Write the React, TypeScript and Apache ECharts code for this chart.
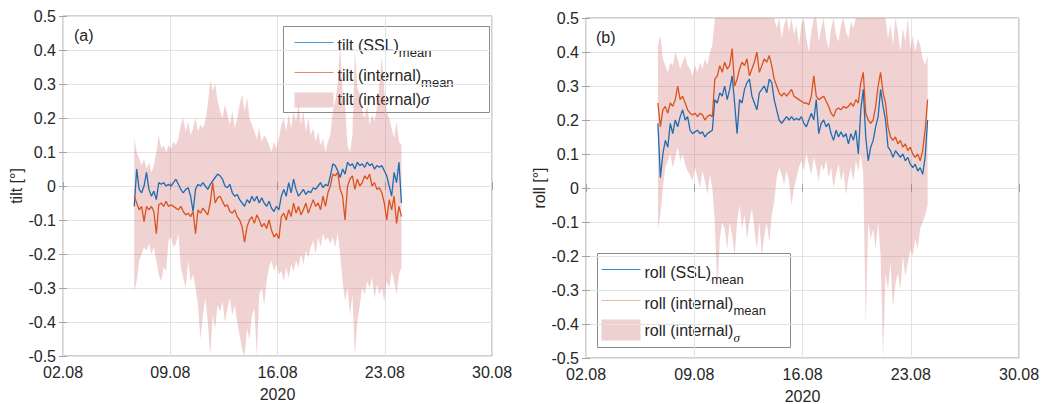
import React, { useEffect, useRef } from "react";
import * as echarts from "echarts";

// ---------- data ----------
// sampling: days after 02.08.2020 00:00
const T_START = 4.65;
const T_STEP = 0.16;
const X_TICKS = ["02.08", "09.08", "16.08", "23.08", "30.08"];
const X_YEAR = "2020";

const tiltSSL = [
  -0.06, 0.05, -0.01, -0.02, 0.0, 0.04, -0.01, -0.03, -0.015, -0.04,
  0.01, 0.005, 0.01, 0.0, 0.005, 0.0, 0.01, 0.02, 0.005, -0.01,
  -0.02, -0.01, -0.005, -0.03, -0.075, -0.01, 0.005, 0.0, 0.01, 0.0,
  -0.01, 0.005, 0.015, 0.025, 0.035, 0.03, 0.02, 0.0, -0.005, 0.005,
  -0.02, -0.03, -0.025, -0.04, -0.05, -0.06, -0.04, -0.05, -0.03, -0.045,
  -0.03, -0.05, -0.035, -0.05, -0.06, -0.045, -0.065, -0.075, -0.06, -0.07,
  -0.03, -0.01, -0.03, 0.01, -0.02, 0.02, -0.01, -0.03, -0.02, -0.01,
  -0.025, -0.015, -0.02, -0.005, -0.01, 0.0, 0.01, -0.005, 0.005, 0.0,
  0.03, 0.065, 0.06, 0.045, 0.025, 0.05, 0.035, 0.07, 0.06, 0.065,
  0.05, 0.07, 0.06, 0.065, 0.055, 0.07, 0.06, 0.065, 0.05, 0.06,
  0.055, 0.06, 0.045, 0.03, 0.0, -0.03, 0.04, 0.01, 0.07, -0.05,
];

const tiltInternal = [
  -0.03, -0.05, -0.07, -0.06, -0.105, -0.06, -0.07, -0.06, -0.075, -0.14,
  -0.055, -0.05, -0.06, -0.045, -0.06, -0.055, -0.06, -0.065, -0.07, -0.06,
  -0.075, -0.085, -0.08, -0.09, -0.075, -0.14, -0.07, -0.08, -0.065, -0.075,
  -0.085, -0.05, 0.01, -0.05, -0.035, -0.03, -0.045, -0.06, -0.055, -0.075,
  -0.08, -0.07, -0.09, -0.1, -0.12, -0.165, -0.12, -0.1, -0.09, -0.11,
  -0.085, -0.1, -0.12, -0.11, -0.125, -0.1, -0.13, -0.15, -0.14, -0.155,
  -0.09, -0.08, -0.1, -0.07, -0.09, -0.05, -0.08, -0.06, -0.085, -0.07,
  -0.05, -0.08, -0.06, -0.04, -0.06, -0.05, -0.07, -0.03, -0.06, -0.02,
  0.0, 0.035, 0.03, 0.04, -0.01, -0.03, -0.1, 0.0, 0.02, 0.03,
  -0.01, 0.02, 0.0, 0.01, 0.03, 0.02, 0.035, 0.0, 0.01, -0.01,
  -0.005, -0.02, -0.05, -0.1, -0.04, -0.07, -0.03, -0.11, -0.06, -0.09,
];

const tiltSigmaHigh = [
  0.14, 0.1, 0.08, 0.06, 0.08, 0.05, 0.07, 0.04, 0.06, 0.1,
  0.15, 0.11, 0.12, 0.1, 0.12, 0.11, 0.13, 0.12, 0.14, 0.18,
  0.2, 0.16, 0.19, 0.15, 0.17, 0.2, 0.16, 0.18, 0.17, 0.19,
  0.24, 0.31, 0.28, 0.3, 0.25, 0.22, 0.2, 0.24, 0.21, 0.18,
  0.22, 0.17, 0.2, 0.24, 0.27, 0.22, 0.26, 0.2, 0.18, 0.16,
  0.14, 0.17, 0.13, 0.15, 0.14, 0.12, 0.1, 0.13, 0.11, 0.14,
  0.18, 0.2, 0.16, 0.21, 0.17, 0.22, 0.19, 0.24, 0.18, 0.22,
  0.16, 0.2, 0.15, 0.17, 0.13, 0.16, 0.12, 0.14, 0.1, 0.13,
  0.15, 0.22, 0.25, 0.3, 0.42, 0.27, 0.24, 0.12, 0.1, 0.15,
  0.4, 0.29, 0.27, 0.22, 0.2, 0.24, 0.18, 0.21, 0.19, 0.23,
  0.3, 0.38, 0.28, 0.22, 0.2, 0.17, 0.14, 0.19, 0.13, 0.12,
];

const tiltSigmaLow = [
  -0.31, -0.28, -0.22, -0.2, -0.18, -0.19, -0.17, -0.2, -0.18, -0.22,
  -0.26, -0.28, -0.24, -0.25, -0.16, -0.15, -0.18, -0.17, -0.14, -0.24,
  -0.27, -0.3, -0.22, -0.28, -0.26, -0.3, -0.35, -0.45, -0.38, -0.33,
  -0.4, -0.5, -0.38, -0.42, -0.35, -0.37, -0.34, -0.4, -0.36, -0.33,
  -0.38, -0.35, -0.4, -0.44, -0.48, -0.5, -0.42, -0.45, -0.38, -0.36,
  -0.5, -0.32, -0.3, -0.35, -0.28, -0.24, -0.22, -0.25, -0.23, -0.26,
  -0.25, -0.28, -0.24, -0.27, -0.23, -0.25, -0.22, -0.24, -0.2, -0.23,
  -0.19, -0.21, -0.18, -0.16, -0.2, -0.15, -0.18, -0.14, -0.16, -0.15,
  -0.17, -0.15, -0.18, -0.14, -0.2, -0.28, -0.34, -0.3, -0.38, -0.32,
  -0.5, -0.4, -0.35, -0.3, -0.32, -0.28, -0.3, -0.27, -0.33, -0.29,
  -0.32, -0.3, -0.34, -0.28, -0.3, -0.25, -0.28, -0.32, -0.26, -0.24,
];

const rollSSL = [
  0.19, 0.03, 0.1, 0.14, 0.12, 0.19, 0.16, 0.2, 0.18, 0.21,
  0.23, 0.2, 0.21, 0.17, 0.16, 0.165, 0.17, 0.16, 0.165, 0.15,
  0.16, 0.165, 0.17, 0.26, 0.25, 0.28, 0.27, 0.3, 0.26, 0.29,
  0.33, 0.25, 0.16, 0.26, 0.25, 0.29, 0.31, 0.32, 0.27, 0.25,
  0.23, 0.28, 0.29, 0.3, 0.28, 0.32, 0.31, 0.26, 0.23, 0.2,
  0.19, 0.2, 0.21, 0.2, 0.21, 0.2, 0.205, 0.2, 0.21, 0.19,
  0.18, 0.2, 0.22, 0.2, 0.26, 0.16, 0.19, 0.2, 0.18, 0.19,
  0.16, 0.14, 0.17, 0.15, 0.165, 0.15, 0.16, 0.13, 0.16, 0.14,
  0.17, 0.1, 0.23, 0.29, 0.15, 0.08, 0.12, 0.14, 0.18, 0.21,
  0.29, 0.24, 0.2, 0.12, 0.11, 0.09, 0.11, 0.1, 0.09, 0.1,
  0.08, 0.09, 0.07, 0.06, 0.07, 0.05, 0.06, 0.04, 0.09, 0.2,
];

const rollInternal = [
  0.25, 0.18, 0.23, 0.24, 0.22, 0.25, 0.24, 0.26, 0.3, 0.26,
  0.27, 0.25, 0.23, 0.22, 0.215, 0.22, 0.21, 0.22, 0.215, 0.2,
  0.21, 0.215, 0.21, 0.32, 0.33, 0.36, 0.34, 0.37, 0.35, 0.36,
  0.41, 0.3, 0.32, 0.35, 0.37, 0.36, 0.38, 0.33, 0.35, 0.37,
  0.4, 0.34, 0.36, 0.38, 0.37, 0.39, 0.36, 0.32, 0.3, 0.28,
  0.27, 0.28, 0.27, 0.28, 0.29, 0.27, 0.265, 0.26, 0.255, 0.25,
  0.25, 0.245, 0.27, 0.33, 0.27, 0.26, 0.265, 0.27, 0.255, 0.24,
  0.22, 0.21, 0.23, 0.235, 0.23, 0.24, 0.235, 0.24, 0.25, 0.24,
  0.26, 0.25, 0.31, 0.34, 0.22, 0.2, 0.19, 0.2, 0.24, 0.3,
  0.34, 0.28, 0.25, 0.18, 0.15, 0.14, 0.15, 0.13, 0.14, 0.12,
  0.13, 0.11, 0.12, 0.1, 0.09, 0.1, 0.08, 0.11, 0.17, 0.26,
];

const rollSigmaHigh = [
  0.42, 0.45, 0.38, 0.36, 0.34, 0.37, 0.36, 0.4, 0.38, 0.35,
  0.37, 0.39, 0.36, 0.35, 0.33, 0.36, 0.34, 0.37, 0.35, 0.38,
  0.36, 0.4, 0.42, 0.5, 0.5, 0.5, 0.5, 0.5, 0.5, 0.5,
  0.5, 0.5, 0.5, 0.5, 0.5, 0.5, 0.5, 0.5, 0.5, 0.5,
  0.5, 0.5, 0.5, 0.5, 0.5, 0.5, 0.5, 0.5, 0.47, 0.5,
  0.44, 0.48, 0.5, 0.46, 0.5, 0.45, 0.48, 0.42, 0.48, 0.5,
  0.44, 0.4, 0.46, 0.5, 0.5, 0.43, 0.47, 0.5, 0.44, 0.41,
  0.47, 0.5, 0.45, 0.43, 0.48, 0.5, 0.46, 0.44, 0.49, 0.47,
  0.5, 0.5, 0.5, 0.5, 0.5, 0.5, 0.5, 0.5, 0.5, 0.5,
  0.5, 0.5, 0.5, 0.44, 0.48, 0.42, 0.5, 0.46, 0.4, 0.47,
  0.43, 0.5, 0.41, 0.45, 0.4, 0.44, 0.42, 0.38, 0.36, 0.39,
];

const rollSigmaLow = [
  -0.12, -0.08, 0.0, 0.06, 0.08, 0.1, 0.06, 0.09, 0.12, 0.08,
  0.1, 0.07, 0.05, 0.04, 0.02, 0.06, 0.03, 0.0, 0.05, 0.02,
  -0.02, 0.04, 0.0, -0.1, -0.3, -0.15, -0.1, -0.12, -0.18, -0.1,
  -0.14, -0.2, -0.1, -0.05, -0.12, -0.08, -0.15, -0.1, -0.06, -0.12,
  -0.18, -0.1, -0.2, -0.14, -0.1, -0.16, -0.08, -0.04, 0.03, 0.06,
  0.04, 0.01, 0.05, 0.02, -0.05, 0.0, 0.03, 0.06, 0.08, 0.05,
  0.1, 0.07, 0.04, 0.09, 0.06, 0.02, 0.07, 0.05, 0.08, 0.03,
  0.06, 0.0, 0.04, 0.07, 0.02, 0.05, -0.02, 0.03, 0.06, 0.02,
  0.08, 0.05, 0.1, 0.04, -0.4, -0.1, -0.15, -0.12, -0.18, -0.1,
  -0.2, -0.5, -0.25, -0.3, -0.22, -0.35, -0.28, -0.25, -0.3, -0.2,
  -0.26, -0.22, -0.18, -0.2, -0.15, -0.18, -0.12, -0.1, -0.08, -0.05,
];

const times = tiltSSL.map((_, k) => +(T_START + T_STEP * k).toFixed(3));

// ---------- styles ----------
const FONT = "'Liberation Sans', Arial, Helvetica, sans-serif";
const SERIF = "'Liberation Serif', 'DejaVu Serif', serif";
const TEXT = "#262626";
const AXIS = "#a3a3a3";
const GRID = "#e3e3e3";
const BLUE = "#1f6cb0";
const ORANGE = "#d9531e";
const BAND = "rgba(204, 92, 92, 0.28)";
const BAND_SWATCH = "#eed0d0";

function fmtY(v: number) {
  const r = Math.round(v * 10);
  return r === 0 ? "0" : (r / 10).toFixed(1);
}

function bottomX(gridIndex: number) {
  return {
    type: "value",
    gridIndex,
    min: 0,
    max: 28,
    interval: 7,
    axisLine: { show: false },
    axisTick: { show: true, inside: true, length: 4, lineStyle: { color: AXIS } },
    axisLabel: {
      margin: 8,
      fontSize: 16,
      fontFamily: FONT,
      color: TEXT,
      formatter: (v: number) => X_TICKS[Math.round(v / 7)] ?? "",
    },
    splitLine: { show: true, lineStyle: { color: GRID, width: 1 } },
    name: X_YEAR,
    nameLocation: "middle",
    nameGap: 30,
    nameTextStyle: { fontSize: 16, fontFamily: FONT, color: TEXT },
  };
}

function topX(gridIndex: number) {
  return {
    type: "value",
    gridIndex,
    position: "top",
    min: 0,
    max: 28,
    interval: 7,
    axisLine: { show: false },
    axisTick: { show: true, inside: true, length: 4, lineStyle: { color: AXIS } },
    axisLabel: { show: false },
    splitLine: { show: false },
  };
}

function leftY(gridIndex: number, name: string) {
  return {
    type: "value",
    gridIndex,
    min: -0.5,
    max: 0.5,
    interval: 0.1,
    axisLine: { show: false },
    axisTick: { show: true, inside: true, length: 4, lineStyle: { color: AXIS } },
    axisLabel: { margin: 7, fontSize: 16, fontFamily: FONT, color: TEXT, formatter: fmtY },
    splitLine: { show: true, lineStyle: { color: GRID, width: 1 } },
    name,
    nameLocation: "middle",
    nameGap: 36,
    nameTextStyle: { fontSize: 16, fontFamily: FONT, color: TEXT },
  };
}

function rightY(gridIndex: number) {
  return {
    type: "value",
    gridIndex,
    position: "right",
    min: -0.5,
    max: 0.5,
    interval: 0.1,
    axisLine: { show: false },
    axisTick: { show: true, inside: true, length: 4, lineStyle: { color: AXIS } },
    axisLabel: { show: false },
    splitLine: { show: false },
  };
}

function bandSeries(axisIndex: number, lo: number[], hi: number[], name: string) {
  return {
    type: "custom",
    name,
    xAxisIndex: axisIndex,
    yAxisIndex: axisIndex,
    silent: true,
    z: 1,
    data: times.map((t, k) => [t, lo[k], hi[k]]),
    encode: { x: 0, y: [1, 2] },
    renderItem: (params: any, api: any) => {
      if (params.dataIndex !== 0) return null;
      const pts: number[][] = [];
      for (let k = 0; k < times.length; k++) pts.push(api.coord([times[k], hi[k]]));
      for (let k = times.length - 1; k >= 0; k--) pts.push(api.coord([times[k], lo[k]]));
      return { type: "polygon", shape: { points: pts }, style: { fill: BAND, stroke: null } };
    },
  };
}

function lineSeries(axisIndex: number, values: number[], color: string, name: string) {
  return {
    type: "line",
    name,
    xAxisIndex: axisIndex,
    yAxisIndex: axisIndex,
    data: times.map((t, k) => [t, values[k]]),
    showSymbol: false,
    symbol: "none",
    z: 3,
    lineStyle: { width: 1.3, color },
    itemStyle: { color },
  };
}

const RICH = {
  m: { fontSize: 16, fontFamily: FONT, fill: TEXT, color: TEXT },
  s: { fontSize: 13, fontFamily: FONT, fill: TEXT, color: TEXT, padding: [13, 0, 0, 0] },
  g: { fontSize: 17, fontFamily: SERIF, fontStyle: "italic", fill: TEXT, color: TEXT },
  sg: { fontSize: 13, fontFamily: SERIF, fontStyle: "italic", fill: TEXT, color: TEXT, padding: [14, 0, 0, 0] },
};

function legendGroup(
  x: number,
  y: number,
  w: number,
  h: number,
  lineX1: number,
  lineX2: number,
  textX: number,
  rows: number[],
  swatch: number[],
  labels: string[],
  lineColors: string[]
) {
  return {
    type: "group",
    x,
    y,
    z: 10,
    children: [
      {
        type: "rect",
        shape: { x: 0, y: 0, width: w, height: h },
        style: { fill: "#ffffff", stroke: "#8c8c8c", lineWidth: 1 },
      },
      {
        type: "line",
        shape: { x1: lineX1, y1: rows[0], x2: lineX2, y2: rows[0] },
        style: { stroke: lineColors[0], lineWidth: 1.2 },
      },
      {
        type: "line",
        shape: { x1: lineX1, y1: rows[1], x2: lineX2, y2: rows[1] },
        style: { stroke: lineColors[1], lineWidth: 1.2 },
      },
      {
        type: "rect",
        shape: { x: lineX1, y: swatch[0], width: lineX2 - lineX1, height: swatch[1] },
        style: { fill: BAND_SWATCH, stroke: null },
      },
      ...labels.map((txt, k) => ({
        type: "text",
        x: textX,
        y: k < 2 ? rows[k] + 3 : rows[2],
        style: { text: txt, rich: RICH, verticalAlign: "middle", align: "left" },
      })),
    ],
  };
}

export default function App() {
  const ref = useRef<HTMLDivElement>(null);

  useEffect(() => {
    if (!ref.current) return;
    const chart = echarts.init(ref.current, null, { renderer: "svg" });
    const option: any = {
      animation: false,
      backgroundColor: "#ffffff",
      textStyle: { fontFamily: FONT },
      grid: [
        {
          left: 63, top: 16, width: 429, height: 340,
          show: true, borderColor: AXIS, borderWidth: 1, backgroundColor: "transparent",
          containLabel: false, outerBoundsMode: "none",
        },
        {
          left: 586, top: 18, width: 433, height: 340,
          show: true, borderColor: AXIS, borderWidth: 1, backgroundColor: "transparent",
          containLabel: false, outerBoundsMode: "none",
        },
      ],
      xAxis: [bottomX(0), bottomX(1), topX(0), topX(1)],
      yAxis: [leftY(0, "tilt [°]"), leftY(1, "roll [°]"), rightY(0), rightY(1)],
      series: [
        bandSeries(0, tiltSigmaLow, tiltSigmaHigh, "tilt (internal)σ"),
        lineSeries(0, tiltSSL, BLUE, "tilt (SSL)mean"),
        lineSeries(0, tiltInternal, ORANGE, "tilt (internal)mean"),
        bandSeries(1, rollSigmaLow, rollSigmaHigh, "roll (internal)σ"),
        lineSeries(1, rollSSL, BLUE, "roll (SSL)mean"),
        lineSeries(1, rollInternal, ORANGE, "roll (internal)mean"),
      ],
      graphic: [
        {
          type: "text", x: 74, y: 35, z: 10,
          style: { text: "(a)", fontSize: 16, fontFamily: FONT, fill: TEXT, verticalAlign: "middle" },
        },
        {
          type: "text", x: 596, y: 37, z: 10,
          style: { text: "(b)", fontSize: 16, fontFamily: FONT, fill: TEXT, verticalAlign: "middle" },
        },
        legendGroup(
          283.5, 26.5, 206, 86, 11, 50, 54,
          [16, 46, 73], [66, 15],
          ["{m|tilt (SSL)}{s|mean}", "{m|tilt (internal)}{s|mean}", "{m|tilt (internal)}{g|σ}"],
          ["#4f9bd5", "#e8866a"]
        ),
        legendGroup(
          597.5, 253.5, 193, 94, 4, 43, 47,
          [16, 47, 77], [66, 21],
          ["{m|roll (SSL)}{s|mean}", "{m|roll (internal)}{s|mean}", "{m|roll (internal)}{sg|σ}"],
          ["#3d86c6", "#f0b59b"]
        ),
      ],
    };
    chart.setOption(option);
    return () => chart.dispose();
  }, []);

  return (
    <div
      ref={ref}
      style={{ position: "fixed", left: 0, top: 0, width: 1046, height: 404, background: "#fff" }}
    />
  );
}
